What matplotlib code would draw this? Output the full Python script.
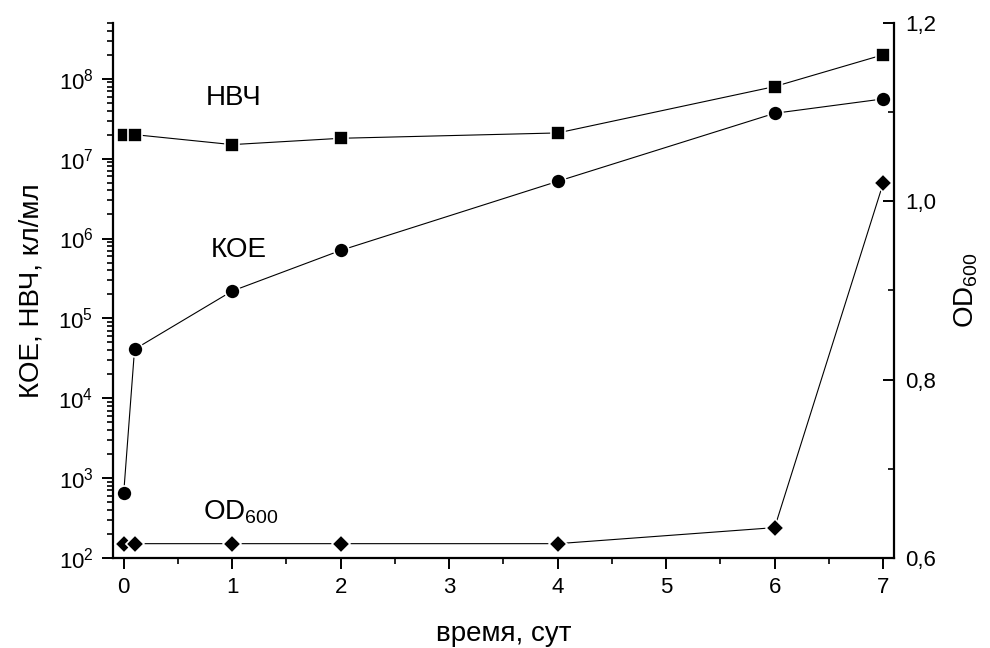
import matplotlib
matplotlib.use("Agg")
import matplotlib.pyplot as plt
from matplotlib.ticker import MultipleLocator, LogLocator, FuncFormatter, NullFormatter

plt.rcParams['font.family'] = ['Liberation Sans', 'DejaVu Sans']
plt.rcParams['mathtext.fontset'] = 'custom'
plt.rcParams['mathtext.rm'] = 'Liberation Sans'
plt.rcParams['mathtext.it'] = 'Liberation Sans:italic'
plt.rcParams['mathtext.bf'] = 'Liberation Sans:bold'

# time points, days
days = [0, 0.1, 1, 2, 4, 6, 7]
# counts per ml
nvch = [2.0e7, 2.0e7, 1.5e7, 1.8e7, 2.1e7, 8.0e7, 2.0e8]
koe = [6.5e2, 4.1e4, 2.2e5, 7.1e5, 5.2e6, 3.7e7, 5.6e7]
# optical density
od600 = [0.616, 0.616, 0.616, 0.616, 0.616, 0.634, 1.02]

fig = plt.figure(figsize=(9.9, 6.48), dpi=100)
ax = fig.add_axes([0.114, 0.139, 0.789, 0.8255])
ax2 = ax.twinx()

line_kw = dict(color='black', lw=0.8, markerfacecolor='black',
               markeredgecolor='white', markeredgewidth=1.2)
ax.plot(days, nvch, marker='s', ms=9.8, **line_kw)
ax.plot(days, koe, marker='o', ms=10.8, **line_kw)
ax2.plot(days, od600, marker='D', ms=9.2, **line_kw)

ax.set_yscale('log')
ax.set_ylim(1e2, 5e8)
ax.set_xlim(-0.1, 7.1)
ax2.set_ylim(0.6, 1.2)

ax.xaxis.set_major_locator(MultipleLocator(1))
ax.xaxis.set_minor_locator(MultipleLocator(0.5))
ax.yaxis.set_major_locator(LogLocator(base=10, numticks=12))
ax.yaxis.set_minor_locator(LogLocator(base=10, subs=range(2, 10), numticks=12))
ax.yaxis.set_minor_formatter(NullFormatter())

# right axis uses a decimal comma
ax2.yaxis.set_major_locator(MultipleLocator(0.2))
ax2.yaxis.set_minor_locator(MultipleLocator(0.1))
ax2.yaxis.set_major_formatter(FuncFormatter(lambda v, p: ('%.1f' % v).replace('.', ',')))

for a in (ax, ax2):
    a.spines['top'].set_visible(False)
    for s in a.spines.values():
        s.set_linewidth(1.6)
ax.spines['right'].set_visible(False)
ax2.spines['left'].set_visible(False)
ax2.spines['bottom'].set_visible(False)

ax.tick_params(axis='both', which='major', direction='out', length=8, width=1.4,
               labelsize=16, pad=6)
ax.tick_params(axis='both', which='minor', direction='out', length=4.5, width=1.2)
ax2.tick_params(axis='y', which='major', direction='in', length=8, width=1.4,
                labelsize=16, pad=8)
ax2.tick_params(axis='y', which='minor', direction='in', length=4.5, width=1.2)

ax.set_xlabel('время, сут', fontsize=20, labelpad=16)
ax.set_ylabel('КОЕ, НВЧ, кл/мл', fontsize=20, labelpad=10)
ax2.set_ylabel(r'OD$_\mathregular{600}$', fontsize=20, labelpad=12)

ax.text(0.755, 4.7e7, 'НВЧ', fontsize=20, ha='left', va='baseline')
ax.text(0.80, 5.8e5, 'КОЕ', fontsize=20, ha='left', va='baseline')
ax2.text(0.73, 0.643, r'OD$_\mathregular{600}$', fontsize=20, ha='left', va='baseline')

fig.savefig('out.png', dpi=100)
